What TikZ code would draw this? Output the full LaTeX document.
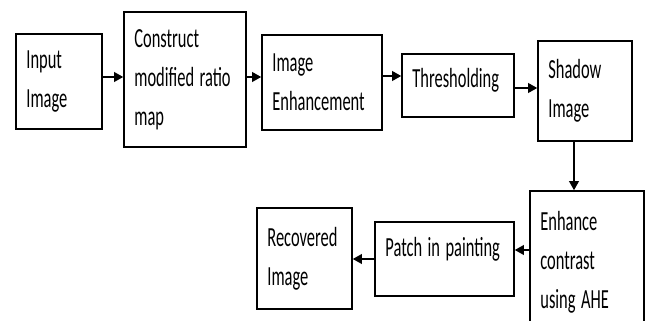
\documentclass[tikz,border=0pt]{standalone}
\usepackage{fontspec}
\setmainfont{Carlito}
\usepackage{graphicx}
\usetikzlibrary{arrows.meta, positioning}
\newcommand{\stretchline}[1]{\scalebox{1}[1.68]{#1}}

\begin{document}
\begin{tikzpicture}[
    x=0.025cm, y=-0.025cm,
    font=\fontsize{11.7pt}{27.7pt}\selectfont,
    >={Triangle[length=6.5pt, width=7pt]},
    box/.style={
        draw=black,
        line width=1.1pt,
        align=left,
        inner xsep=0.26cm,
        inner ysep=0pt
    },
    arrow/.style={->, line width=1pt}
]
\useasboundingbox (0,0) rectangle (649,321);
\clip (0,0) rectangle (649,321);

\node[box, text width=1.63cm, minimum height=2.375cm] (input) at (59,81.5) {
    \stretchline{Input}\\\stretchline{Image}};
\node[box, text width=2.53cm, minimum height=3.375cm] (ratio) at (185,79.5) {
    \stretchline{Construct}\\\stretchline{modified ratio}\\\stretchline{map}};
\node[box, text width=2.48cm, minimum height=2.375cm] (enhance) at (322,82.5) {
    \stretchline{Image}\\\stretchline{Enhancement}};
\node[box, text width=2.28cm, minimum height=1.575cm, text depth=0.39cm] (thresh) at (458,85.5) {
    \stretchline{Thresholding}};
\node[box, text width=1.83cm, minimum height=2.5cm] (shadow) at (585,91) {
    \stretchline{Shadow}\\\stretchline{Image}};

\node[box, text width=2.33cm, minimum height=3.575cm] (ahe) at (587,262.5) {
    \stretchline{Enhance}\\\stretchline{contrast}\\\stretchline{using AHE}};
\node[box, text width=2.955cm, minimum height=1.85cm, text depth=0.59cm] (patch) at (444.5,259) {
    \stretchline{Patch in painting}};
\node[box, text width=1.855cm, minimum height=2.525cm] (recovered) at (304.5,258.5) {
    \stretchline{Recovered}\\\stretchline{Image}};

\draw[arrow] (input.east |- 0,77) -- (ratio.west |- 0,77);
\draw[arrow] (ratio.east |- 0,77) -- (enhance.west |- 0,77);
\draw[arrow] (enhance.east |- 0,76) -- (thresh.west |- 0,76);
\draw[arrow] (thresh.east |- 0,88) -- (shadow.west |- 0,88);
\draw[arrow] (shadow.south -| 574,0) -- (ahe.north -| 574,0);
\draw[arrow] (ahe.west |- 0,250) -- (patch.east |- 0,250);
\draw[arrow] (patch.west |- 0,259) -- (recovered.east |- 0,259);

\end{tikzpicture}
\end{document}
